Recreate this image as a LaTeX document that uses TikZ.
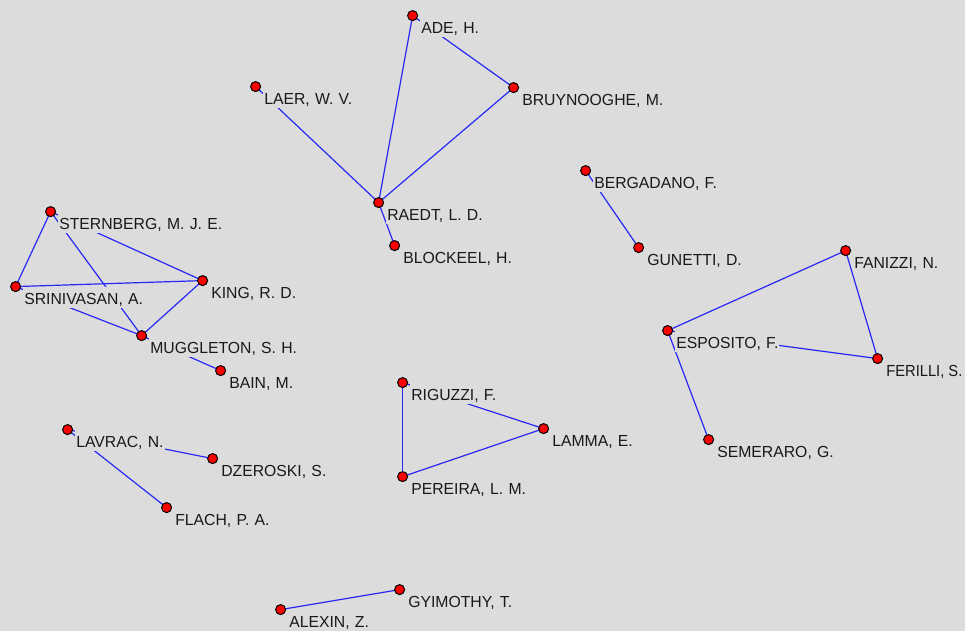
\documentclass[tikz,border=0pt]{standalone}
\usepackage{fontspec}
\setmainfont{Liberation Sans}[WordSpace=1.2,FakeStretch=0.985]
% slightly condensed face for a label that runs up to the right edge
\newfontfamily\narrowlabel{Liberation Sans}[WordSpace=1.0,FakeStretch=0.92]
\definecolor{bg}{RGB}{220,220,220}
\definecolor{edgeblue}{RGB}{40,40,245}
\definecolor{dotred}{RGB}{250,0,0}
\pgfdeclarelayer{canvas}
\pgfdeclarelayer{edges}
\pgfdeclarelayer{labels}
\pgfsetlayers{canvas,edges,labels,main}
\tikzset{
  dot/.style={circle,fill=dotred,draw=black,line width=1pt,inner sep=0pt,minimum size=10pt},
  tag/.style={anchor=base west,fill=bg,inner xsep=1pt,inner ysep=0pt,
    text height=17pt,text depth=3.5pt,font=\fontsize{16}{18}\selectfont,text=black!90},
  link/.style={draw=edgeblue,line width=1.2pt}
}
% a person: dot node plus its name label below right (the label box hides the edges behind it)
\newcommand\person[4]{%
  \node[dot] (#1) at (#2,#3) {};
  \begin{pgfonlayer}{labels}
    \node[tag] (#1-l) at ([xshift=7.5pt,yshift=-17.6pt]#1.center) {#4};
  \end{pgfonlayer}}
\begin{document}
\begin{tikzpicture}[x=1pt,y=-1pt]
\begin{pgfonlayer}{canvas}
\fill[bg] (0,0) rectangle (965,631);
\end{pgfonlayer}
\useasboundingbox (0,0) rectangle (965,631);

\begin{scope}[shift={(0.6,0.6)}]
\person{ade}{412}{15}{ADE, H.}
\person{bruy}{513}{87}{BRUYNOOGHE, M.}
\person{laer}{255}{86}{LAER, W. V.}
\person{raedt}{378}{202}{RAEDT, L. D.}
\person{block}{394}{245}{BLOCKEEL, H.}
\person{berg}{585}{170}{BERGADANO, F.}
\person{gun}{638}{247}{GUNETTI, D.}
\person{fan}{845}{250}{FANIZZI, N.}
\person{esp}{667}{330}{ESPOSITO, F.}
\person{fer}{877}{358}{\narrowlabel FERILLI, S.}
\person{sem}{708}{439}{SEMERARO, G.}
\person{stern}{50}{211}{STERNBERG, M. J. E.}
\person{srin}{15}{286}{SRINIVASAN, A.}
\person{king}{202}{280}{KING, R. D.}
\person{mugg}{141}{335}{MUGGLETON, S. H.}
\person{bain}{220}{370}{BAIN, M.}
\person{rig}{402}{382}{RIGUZZI, F.}
\person{lamma}{543}{428}{LAMMA, E.}
\person{per}{402}{476}{PEREIRA, L. M.}
\person{lav}{67}{429}{LAVRAC, N.}
\person{dzer}{212}{458}{DZEROSKI, S.}
\person{flach}{166}{507}{FLACH, P. A.}
\person{gyi}{399}{589}{GYIMOTHY, T.}
\person{alex}{280}{609}{ALEXIN, Z.}
\end{scope}

\begin{pgfonlayer}{edges}
\foreach \a/\b in {ade/bruy, ade/raedt, bruy/raedt, laer/raedt, raedt/block,
    berg/gun, fan/esp, fan/fer, esp/fer, esp/sem,
    stern/srin, stern/king, stern/mugg, srin/king, srin/mugg, king/mugg, mugg/bain,
    rig/per, rig/lamma, per/lamma, lav/dzer, lav/flach, alex/gyi}
  \draw[link] (\a.center) -- (\b.center);
\end{pgfonlayer}
\end{tikzpicture}
\end{document}
